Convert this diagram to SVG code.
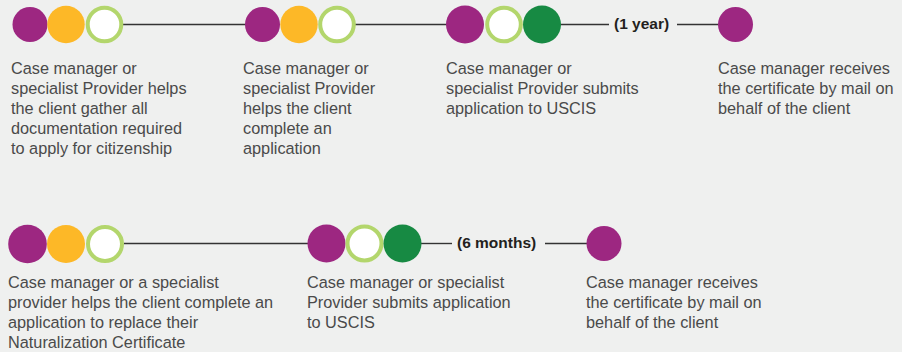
<svg xmlns="http://www.w3.org/2000/svg" width="902" height="352" viewBox="0 0 902 352">
<style>
.bg{fill:#eff0ef}
.pu{fill:#9d2781}
.or{fill:#fdb827}
.ri{fill:#ffffff;stroke:#b3d66c;stroke-width:4}
.dg{fill:#178a43}
.ln{stroke:#333333;stroke-width:1.4;fill:none}
.t{font-family:"Liberation Sans",Arial,sans-serif;font-size:16.3px;fill:#4a4a4a}
.b{font-family:"Liberation Sans",Arial,sans-serif;font-size:15.5px;font-weight:bold;fill:#231f20}
</style>
<rect class="bg" x="0" y="0" width="902" height="352"/>
<g id="connectors">
<line class="ln" x1="123" y1="24.5" x2="246" y2="24.5"/>
<line class="ln" x1="355" y1="24.5" x2="447" y2="24.5"/>
<line class="ln" x1="560" y1="24.5" x2="609" y2="24.5"/>
<line class="ln" x1="677" y1="24.5" x2="719" y2="24.5"/>
<line class="ln" x1="124" y1="243.5" x2="308" y2="243.5"/>
<line class="ln" x1="421" y1="243.5" x2="452" y2="243.5"/>
<line class="ln" x1="545" y1="243.5" x2="588" y2="243.5"/>
<text class="b" x="614" y="29">(1 year)</text>
<text class="b" x="457" y="248">(6 months)</text>
</g>
<g id="step1">
<circle class="pu" cx="30" cy="24.5" r="17.5"/>
<circle class="or" cx="66" cy="24.5" r="18.7"/>
<circle class="ri" cx="104.5" cy="24.5" r="16.8"/>
<text class="t" x="11" y="74">Case manager or</text>
<text class="t" x="11" y="94">specialist Provider helps</text>
<text class="t" x="11" y="114">the client gather all</text>
<text class="t" x="11" y="134">documentation required</text>
<text class="t" x="11" y="154">to apply for citizenship</text>
</g>
<g id="step2">
<circle class="pu" cx="262.5" cy="24.5" r="17.5"/>
<circle class="or" cx="299" cy="24.5" r="18.7"/>
<circle class="ri" cx="337" cy="24.5" r="16.8"/>
<text class="t" x="243" y="74">Case manager or</text>
<text class="t" x="243" y="94">specialist Provider</text>
<text class="t" x="243" y="114">helps the client</text>
<text class="t" x="243" y="134">complete an</text>
<text class="t" x="243" y="154">application</text>
</g>
<g id="step3">
<circle class="pu" cx="465" cy="24.5" r="19"/>
<circle class="ri" cx="504" cy="24.5" r="16.8"/>
<circle class="dg" cx="542" cy="24.5" r="19"/>
<text class="t" x="446" y="74">Case manager or</text>
<text class="t" x="446" y="94">specialist Provider submits</text>
<text class="t" x="446" y="114">application to USCIS</text>
</g>
<g id="step4">
<circle class="pu" cx="735.5" cy="24.5" r="17.5"/>
<text class="t" x="718" y="74">Case manager receives</text>
<text class="t" x="718" y="94">the certificate by mail on</text>
<text class="t" x="718" y="114">behalf of the client</text>
</g>
<g id="step5">
<circle class="pu" cx="27.5" cy="244" r="19.3"/>
<circle class="or" cx="66" cy="244" r="19"/>
<circle class="ri" cx="105" cy="244" r="17"/>
<text class="t" x="8" y="288">Case manager or a specialist</text>
<text class="t" x="8" y="308">provider helps the client complete an</text>
<text class="t" x="8" y="328">application to replace their</text>
<text class="t" x="8" y="348">Naturalization Certificate</text>
</g>
<g id="step6">
<circle class="pu" cx="326.5" cy="243.5" r="19"/>
<circle class="ri" cx="364.5" cy="243.5" r="17"/>
<circle class="dg" cx="402.5" cy="243.5" r="19"/>
<text class="t" x="307" y="288">Case manager or specialist</text>
<text class="t" x="307" y="308">Provider submits application</text>
<text class="t" x="307" y="328">to USCIS</text>
</g>
<g id="step7">
<circle class="pu" cx="604" cy="243.5" r="17.5"/>
<text class="t" x="586" y="288">Case manager receives</text>
<text class="t" x="586" y="308">the certificate by mail on</text>
<text class="t" x="586" y="328">behalf of the client</text>
</g>
</svg>
